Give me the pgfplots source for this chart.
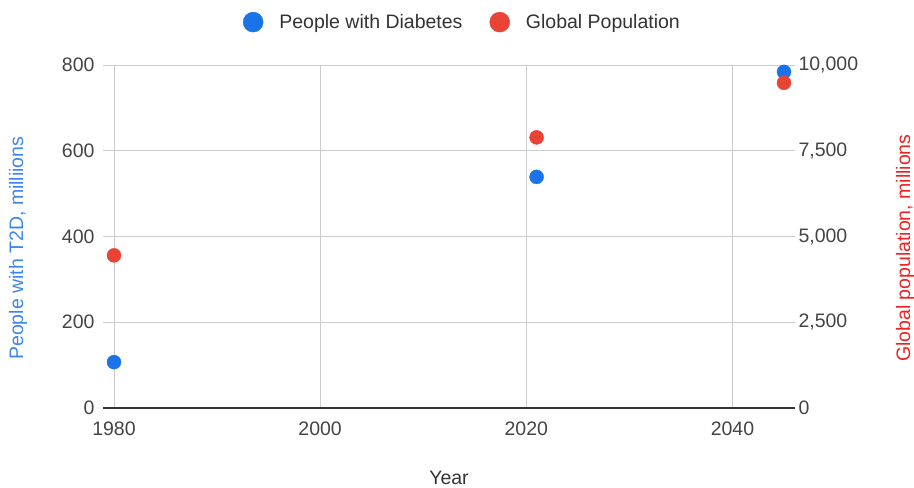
\documentclass[border=0pt]{standalone}
\usepackage{fontspec}
\setmainfont{Liberation Sans}
\usepackage{pgfplots}
\pgfplotsset{compat=1.18}
\definecolor{dblue}{HTML}{1A73E8}
\definecolor{pred}{HTML}{EA4335}
\definecolor{lblue}{HTML}{3D85EC}
\definecolor{lred}{HTML}{EE2222}
\definecolor{gridc}{HTML}{CCCCCC}
\definecolor{txt}{HTML}{444444}
\definecolor{basec}{HTML}{333333}
\begin{document}
\begin{tikzpicture}[font=\fontsize{19.5bp}{23bp}\selectfont]
\useasboundingbox (0,0) rectangle (914bp,488bp);
\begin{axis}[
  at={(114bp,80bp)}, anchor=south west,
  scale only axis, width=670bp, height=343bp,
  xmin=1980, xmax=2045, ymin=0, ymax=800,
  xtick={1980,2000,2020,2040}, ytick={200,400,600,800},
  xmajorgrids, ymajorgrids,
  major grid style={gridc, line width=1bp},
  axis line style={draw=none},
  tick align=outside,
  major tick length=11bp,
  xtick style={draw=none},
  ytick style={gridc, line width=1bp},
  ytick pos=both, yticklabel pos=left,
  xticklabel style={/pgf/number format/1000 sep=, text=txt, yshift=1bp},
  yticklabel style={text=txt, xshift=-5bp},
  /pgf/number format/assume math mode=true,
  extra y ticks={0},
  extra y tick style={major grid style={basec, line width=2bp}, ytick style={basec, line width=2bp}},
  every axis x label/.style={at={(axis description cs:0.5,-0.205)}, anchor=center, text=basec},
  every axis y label/.style={at={(axis description cs:-0.1433,0.466)}, rotate=90, anchor=center, text=lblue},
  xlabel={Year},
  ylabel={People with T2D, milliions},
  clip=false,
]
\addplot[only marks, mark=*, mark size=7bp, color=dblue] coordinates {(1980,107) (2021,539) (2045,784)};
\end{axis}
\begin{axis}[
  at={(114bp,80bp)}, anchor=south west,
  scale only axis, width=670bp, height=343bp,
  xmin=1980, xmax=2045, ymin=0, ymax=10000,
  ytick={0,2500,5000,7500,10000},
  axis x line=none, axis y line*=right,
  axis line style={draw=none},
  ytick style={draw=none},
  tick align=outside, major tick length=11bp,
  yticklabel style={text=txt, /pgf/number format/1000 sep={,}},
  /pgf/number format/assume math mode=true,
  scaled y ticks=false,
  every axis y label/.style={at={(axis description cs:1.1806,0.466)}, rotate=90, anchor=center, text=lred},
  ylabel={Global population, millions},
  legend columns=2,
  legend image code/.code={\draw[#1, mark size=10bp] plot coordinates {(0bp,0bp)}; \path (-10bp,0bp) (24bp,0bp);},
  legend style={at={(axis description cs:0.520,1.125)}, anchor=center, draw=none, fill=none, text=basec,
    /tikz/every even column/.append style={column sep=25bp}},
  clip=false,
]
\addlegendimage{only marks, mark=*, color=dblue}
\addlegendentry{People with Diabetes}
\addplot[only marks, mark=*, mark size=7bp, color=pred] coordinates {(1980,4450) (2021,7889) (2045,9480)};
\addlegendentry{Global Population}
\end{axis}
\end{tikzpicture}
\end{document}
